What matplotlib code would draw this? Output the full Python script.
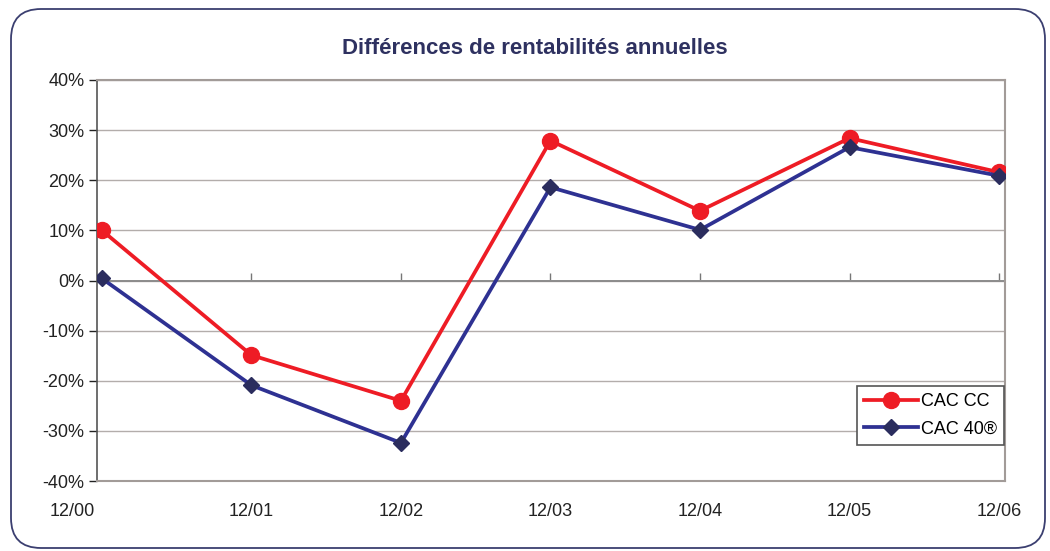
import matplotlib
matplotlib.use("Agg")
import matplotlib.pyplot as plt
import matplotlib.transforms as mtransforms
from matplotlib.patches import FancyBboxPatch
from matplotlib.ticker import FuncFormatter

plt.rcParams['font.family'] = ['Liberation Sans', 'DejaVu Sans']

# data
periods = ["12/00", "12/01", "12/02", "12/03", "12/04", "12/05", "12/06"]
cac_cc = [10.0, -14.9, -24.0, 27.9, 13.9, 28.4, 21.6]
cac_40 = [0.4, -20.9, -32.4, 18.6, 10.1, 26.6, 20.9]
y_ticks = [-40, -30, -20, -10, 0, 10, 20, 30, 40]

red = "#ee1c25"
blue = "#2e3192"
navy = "#2b2d5e"
frame = "#a29b98"

fig = plt.figure(figsize=(10.5, 5.51), dpi=100)

# rounded outer border (pixel coordinates)
border = FancyBboxPatch((11, 3), 1034, 539,
                        boxstyle="round,pad=0,rounding_size=30",
                        transform=mtransforms.IdentityTransform(),
                        facecolor="none", edgecolor="#3b3f70", linewidth=1.3,
                        zorder=-1)
fig.patches.append(border)

ax = fig.add_axes([97 / 1050, 1 - 481 / 551, 908 / 1050, 401 / 551])
x = list(range(len(periods)))

ax.plot(x, cac_cc, color=red, lw=2.7, marker="o", markersize=11.5,
        markerfacecolor=red, markeredgecolor=red, label="CAC CC", zorder=3)
ax.plot(x, cac_40, color=blue, lw=2.7, marker="D", markersize=8.5,
        markerfacecolor=navy, markeredgecolor=navy, label="CAC 40®", zorder=3)

ax.set_xlim(-0.033, 6.04)
ax.set_ylim(-40, 40)
ax.set_yticks(y_ticks)
ax.yaxis.set_major_formatter(FuncFormatter(lambda v, p: f"{int(v)}%"))
ax.grid(axis="y", color="#b3adab", lw=1)
ax.set_axisbelow(True)

ax.set_xticks(x)
ax.set_xticklabels(periods)
ax.tick_params(axis="x", length=0, pad=16, labelsize=13, colors="#222222")
ax.tick_params(axis="y", length=6, width=1, pad=3, labelsize=13, colors="#222222",
               direction="out")

# shift first category label like the original
first = ax.get_xticklabels()[0]
first.set_transform(first.get_transform() +
                    mtransforms.ScaledTranslation(-30 / 100, 0, fig.dpi_scale_trans))

for side in ["top", "right", "bottom"]:
    ax.spines[side].set_color(frame)
    ax.spines[side].set_linewidth(1.5)
ax.spines["left"].set_color("#555555")
ax.spines["left"].set_linewidth(1.2)

# zero line with category ticks
ax.axhline(0, color="#8c8c8c", lw=1.4, zorder=1)
zero = ax.secondary_xaxis(0.5)
zero.set_xticks(x[1:])
zero.set_xticklabels([])
zero.tick_params(axis="x", direction="out", length=5, width=1, colors="#777777")
for sp in zero.spines.values():
    sp.set_visible(False)

fig.text(535 / 1050, 1 - 48 / 551, "Différences de rentabilités annuelles",
         ha="center", va="center", fontsize=16, fontweight="bold", color="#2e3160")

leg = ax.legend(loc="lower right", bbox_to_anchor=(0.999, 0.09), borderaxespad=0,
                fancybox=False, edgecolor="#555555", fontsize=13,
                handlelength=3.0, handletextpad=0.15, labelspacing=0.6,
                borderpad=0.4, framealpha=1)
leg.get_frame().set_linewidth(1.2)

fig.savefig("out.png", dpi=100)
